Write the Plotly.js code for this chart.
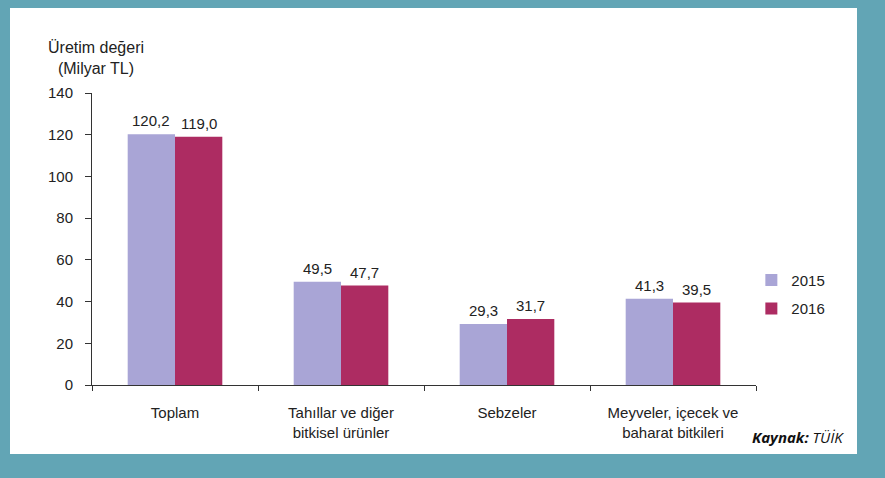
<!DOCTYPE html>
<html>
<head>
<meta charset="utf-8">
<script src="https://cdn.plot.ly/plotly-3.0.1.min.js"></script>
<style>
html,body{margin:0;padding:0;background:#62a5b5;width:885px;height:478px;overflow:hidden;}
#chart{position:absolute;left:10px;top:8px;width:847px;height:446px;background:#fff;}
</style>
</head>
<body>
<div id="chart"></div>
<script>
const categories = ["Toplam", "Tahıllar ve diğer<br>bitkisel ürünler", "Sebzeler", "Meyveler, içecek ve<br>baharat bitkileri"];
const values2015 = [120.2, 49.5, 29.3, 41.3];
const values2016 = [119.0, 47.7, 31.7, 39.5];
const seriesNames = ["2015", "2016"];
const yTicks = [0, 20, 40, 60, 80, 100, 120, 140];

const font = "Liberation Sans, Arial, sans-serif";
const txtColor = "#222";
const colors = ["#a9a5d6", "#ad2c62"];
const seriesValues = [values2015, values2016];

const traces = seriesValues.map((vals, k) => ({
  type: "bar", name: seriesNames[k], x: categories, y: vals, legendgroup: "g" + k,
  marker: {color: colors[k]}, hoverinfo: "none"
}));

const labelAnnotations = [];
seriesValues.forEach((vals, k) => {
  vals.forEach((v, i) => {
    labelAnnotations.push({
      xref: "x", yref: "y", x: categories[i], y: v, xanchor: "center", yanchor: "bottom",
      xshift: k === 0 ? -23.6 : 23.6, yshift: 3, showarrow: false,
      text: v.toFixed(1).replace(".", ","),
      font: {family: font, size: 15, color: txtColor}
    });
  });
});

const layout = {
  width: 847, height: 446,
  margin: {l: 82, r: 101, t: 85, b: 69},
  paper_bgcolor: "#ffffff", plot_bgcolor: "#ffffff",
  separators: ", ",
  barmode: "group", bargap: 0.43, bargroupgap: 0,
  font: {family: font, size: 15, color: txtColor},
  showlegend: true,
  legend: {x: 0.993, y: 0.415, xanchor: "left", yanchor: "top", traceorder: "grouped", tracegroupgap: 6,
           font: {family: font, size: 15, color: txtColor}, itemwidth: 30, bgcolor: "rgba(0,0,0,0)"},
  xaxis: {type: "category", tickson: "boundaries", ticks: "outside", ticklen: 5, tickcolor: "#333",
          showline: true, linecolor: "#333", linewidth: 1, showgrid: false, zeroline: false,
          ticklabelstandoff: 14,
          tickfont: {family: font, size: 15, color: txtColor}, automargin: false},
  yaxis: {range: [0, 140], tickvals: yTicks, ticks: "outside", ticklen: 6, tickcolor: "#333",
          showline: true, linecolor: "#333", linewidth: 1, showgrid: false, zeroline: false,
          ticklabelstandoff: 9,
          tickfont: {family: font, size: 15, color: txtColor}, automargin: false},
  annotations: [
    {xref: "paper", yref: "paper", x: 0.006, y: 1.12, xanchor: "center", yanchor: "middle", showarrow: false,
     text: "Üretim değeri<br>(Milyar TL)", font: {family: font, size: 16, color: txtColor}, align: "center"},
    {xref: "paper", yref: "paper", x: 1.063, y: -0.178, xanchor: "center", yanchor: "middle", showarrow: false,
     text: "<b><i>Kaynak:</i></b> <i>TÜİK</i>", font: {family: "Open Sans, sans-serif", size: 15, color: "#111"}}
  ].concat(labelAnnotations)
};

Plotly.newPlot("chart", traces, layout, {displayModeBar: false, staticPlot: true});
</script>
</body>
</html>
